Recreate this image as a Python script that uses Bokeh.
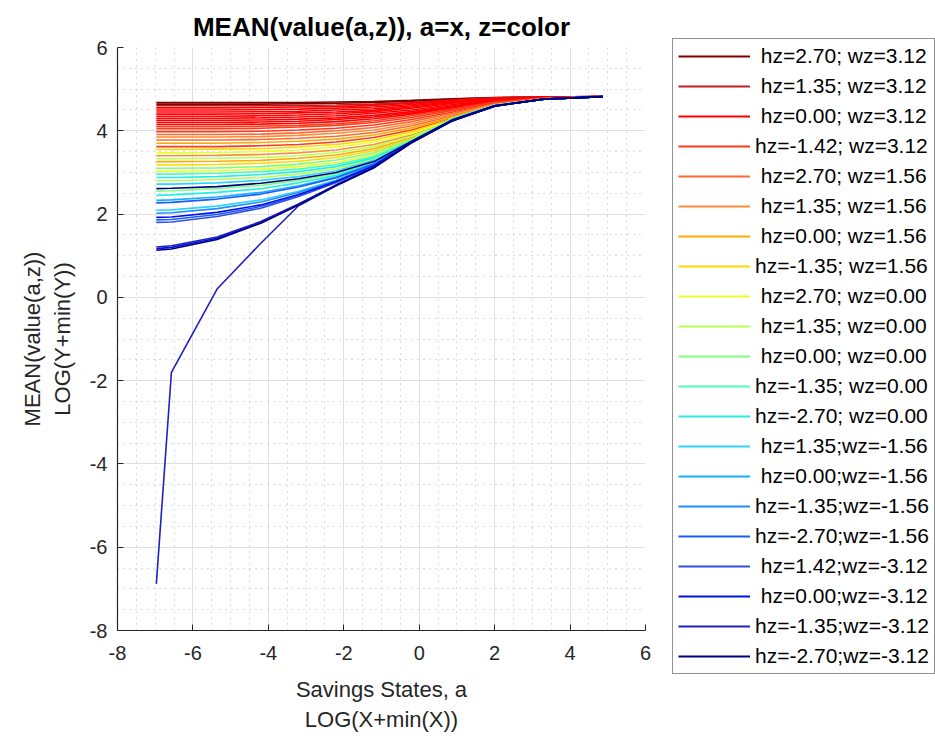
from bokeh.plotting import figure
from bokeh.models import Legend, LegendItem, FixedTicker, Range1d
from bokeh.layouts import row
from bokeh.embed import file_html
from bokeh.resources import INLINE

# ---------------- data ----------------
# savings grid, log scale (x)
x_grid = [-6.97, -6.57, -5.36, -4.20, -3.20, -2.20, -1.20, -0.20, 0.90, 2.00, 3.30, 4.86]

NB = "\u00a0"
legend_labels = [
    NB + "hz=2.70; wz=3.12", NB + "hz=1.35; wz=3.12", NB + "hz=0.00; wz=3.12", "hz=-1.42; wz=3.12",
    NB + "hz=2.70; wz=1.56", NB + "hz=1.35; wz=1.56", NB + "hz=0.00; wz=1.56", "hz=-1.35; wz=1.56",
    NB + "hz=2.70; wz=0.00", NB + "hz=1.35; wz=0.00", NB + "hz=0.00; wz=0.00", "hz=-1.35; wz=0.00",
    "hz=-2.70; wz=0.00", NB + "hz=1.35;wz=-1.56", NB + "hz=0.00;wz=-1.56", "hz=-1.35;wz=-1.56",
    "hz=-2.70;wz=-1.56", NB + "hz=1.42;wz=-3.12", NB + "hz=0.00;wz=-3.12", "hz=-1.35;wz=-3.12",
    "hz=-2.70;wz=-3.12",
]

# mean value lines, LOG(Y+min(Y)), one row per line, columns follow x_grid
red_lines = [
    [4.68, 4.68, 4.68, 4.68, 4.68, 4.69, 4.70, 4.73, 4.77, 4.80, 4.81, 4.82],
    [4.64, 4.64, 4.64, 4.64, 4.65, 4.66, 4.68, 4.71, 4.76, 4.79, 4.81, 4.82],
    [4.60, 4.60, 4.60, 4.60, 4.61, 4.62, 4.64, 4.68, 4.74, 4.79, 4.81, 4.82],
    [4.55, 4.55, 4.55, 4.56, 4.57, 4.58, 4.61, 4.66, 4.73, 4.78, 4.81, 4.82],
    [4.50, 4.50, 4.50, 4.51, 4.52, 4.54, 4.57, 4.63, 4.72, 4.78, 4.80, 4.82],
    [4.45, 4.45, 4.45, 4.46, 4.47, 4.50, 4.53, 4.60, 4.70, 4.77, 4.80, 4.82],
    [4.40, 4.40, 4.40, 4.41, 4.43, 4.45, 4.49, 4.57, 4.68, 4.76, 4.80, 4.82],
    [4.35, 4.35, 4.35, 4.36, 4.38, 4.41, 4.46, 4.54, 4.66, 4.75, 4.80, 4.82],
    [4.30, 4.30, 4.30, 4.31, 4.33, 4.36, 4.42, 4.50, 4.63, 4.74, 4.80, 4.82],
    [4.25, 4.25, 4.25, 4.26, 4.28, 4.31, 4.37, 4.46, 4.60, 4.73, 4.79, 4.82],
    [4.20, 4.20, 4.20, 4.21, 4.23, 4.27, 4.33, 4.43, 4.58, 4.72, 4.79, 4.82],
    [4.15, 4.15, 4.15, 4.16, 4.18, 4.22, 4.29, 4.40, 4.55, 4.70, 4.79, 4.82],
    [4.10, 4.10, 4.10, 4.11, 4.13, 4.17, 4.24, 4.36, 4.52, 4.69, 4.78, 4.82],
    [4.05, 4.05, 4.05, 4.06, 4.09, 4.13, 4.20, 4.32, 4.49, 4.67, 4.78, 4.82],
    [3.98, 3.98, 3.98, 3.99, 4.02, 4.06, 4.14, 4.27, 4.45, 4.65, 4.77, 4.82],
    [3.91, 3.91, 3.91, 3.92, 3.95, 4.00, 4.08, 4.22, 4.42, 4.64, 4.77, 4.82],
]
red_groups = [0, 0, 1, 2, 2, 2, 2, 2, 2, 2, 2, 2, 3, 3, 3, 4]

orange_lines = [
    [3.85, 3.85, 3.85, 3.86, 3.89, 3.94, 4.02, 4.17, 4.39, 4.63, 4.77, 4.82],
    [3.78, 3.78, 3.78, 3.79, 3.82, 3.87, 3.96, 4.12, 4.36, 4.63, 4.77, 4.82],
    [3.70, 3.70, 3.70, 3.72, 3.75, 3.80, 3.90, 4.07, 4.33, 4.62, 4.77, 4.82],
    [3.62, 3.62, 3.62, 3.64, 3.67, 3.73, 3.84, 4.02, 4.30, 4.62, 4.77, 4.82],
    [3.55, 3.55, 3.56, 3.57, 3.61, 3.67, 3.78, 3.98, 4.28, 4.62, 4.76, 4.82],
    [3.47, 3.47, 3.48, 3.50, 3.54, 3.61, 3.73, 3.94, 4.26, 4.61, 4.76, 4.82],
    [3.40, 3.40, 3.41, 3.43, 3.47, 3.54, 3.67, 3.90, 4.25, 4.61, 4.76, 4.82],
    [3.33, 3.33, 3.34, 3.36, 3.40, 3.48, 3.62, 3.87, 4.24, 4.61, 4.76, 4.82],
]
orange_groups = [5, 4, 6, 3, 7, 8, 5, 9]

green_lines = [
    [3.26, 3.26, 3.27, 3.29, 3.34, 3.42, 3.57, 3.84, 4.31, 4.61, 4.76, 4.82],
    [3.18, 3.18, 3.19, 3.22, 3.27, 3.36, 3.52, 3.81, 4.30, 4.61, 4.76, 4.82],
    [3.10, 3.10, 3.11, 3.14, 3.20, 3.30, 3.47, 3.79, 4.30, 4.61, 4.76, 4.82],
    [3.03, 3.03, 3.04, 3.08, 3.14, 3.24, 3.42, 3.77, 4.29, 4.61, 4.76, 4.82],
    [2.96, 2.96, 2.98, 3.02, 3.08, 3.19, 3.38, 3.76, 4.29, 4.61, 4.76, 4.82],
    [2.88, 2.88, 2.90, 2.95, 3.02, 3.14, 3.35, 3.75, 4.28, 4.61, 4.76, 4.82],
    [2.80, 2.80, 2.83, 2.88, 2.96, 3.09, 3.32, 3.74, 4.28, 4.61, 4.76, 4.82],
    [2.72, 2.72, 2.75, 2.81, 2.90, 3.04, 3.29, 3.73, 4.27, 4.61, 4.76, 4.82],
]
green_groups = [6, 7, 10, 8, 11, 12, 9, 13]

blue_lines = [
    [2.61, 2.62, 2.66, 2.74, 2.85, 3.00, 3.26, 3.75, 4.27, 4.60, 4.76, 4.82],
    [2.55, 2.56, 2.61, 2.69, 2.81, 2.97, 3.24, 3.75, 4.27, 4.60, 4.76, 4.82],
    [2.45, 2.46, 2.52, 2.61, 2.75, 2.93, 3.22, 3.74, 4.26, 4.60, 4.76, 4.82],
    [2.33, 2.34, 2.41, 2.52, 2.68, 2.89, 3.21, 3.74, 4.26, 4.60, 4.76, 4.82],
    [2.27, 2.28, 2.36, 2.48, 2.65, 2.87, 3.20, 3.74, 4.26, 4.60, 4.76, 4.82],
    [2.09, 2.10, 2.19, 2.34, 2.55, 2.82, 3.18, 3.74, 4.26, 4.60, 4.76, 4.82],
    [2.02, 2.03, 2.13, 2.29, 2.52, 2.80, 3.17, 3.74, 4.26, 4.60, 4.76, 4.82],
    [1.92, 1.93, 2.04, 2.22, 2.47, 2.78, 3.16, 3.73, 4.26, 4.60, 4.76, 4.82],
    [1.86, 1.87, 1.99, 2.18, 2.44, 2.77, 3.16, 3.73, 4.26, 4.60, 4.76, 4.82],
    [1.80, 1.81, 1.94, 2.14, 2.42, 2.76, 3.15, 3.73, 4.26, 4.60, 4.76, 4.82],
    [1.21, 1.24, 1.45, 1.82, 2.24, 2.70, 3.12, 3.72, 4.25, 4.59, 4.76, 4.82],
    [1.17, 1.20, 1.42, 1.80, 2.23, 2.70, 3.12, 3.72, 4.25, 4.59, 4.76, 4.82],
    [1.13, 1.16, 1.39, 1.78, 2.22, 2.69, 3.12, 3.72, 4.25, 4.59, 4.76, 4.82],
    [-6.88, -1.80, 0.20, 1.30, 2.20, 2.68, 3.11, 3.71, 4.25, 4.59, 4.76, 4.82],
]
blue_groups = [20, 10, 12, 14, 16, 13, 15, 18, 16, 17, 19, 18, 20, 19]

x_ticks = [-8, -6, -4, -2, 0, 2, 4, 6]
y_ticks = [-8, -6, -4, -2, 0, 2, 4, 6]

# ---------------- style ----------------
colors = ["#800000", "#c02020", "#ff0000", "#ff3a1a", "#ff6a33", "#ff8c3a", "#ffaa00",
          "#ffd800", "#eaff2a", "#b5ff55", "#7fff80", "#4affb5", "#25eee0", "#30d2ff",
          "#10b0ff", "#1e8cff", "#1a5cff", "#3050e0", "#0010e6", "#2020c0", "#00007f"]
FONT = "Liberation Sans"
AX = "#262626"

p = figure(width=660, height=740, x_range=Range1d(-8, 6), y_range=Range1d(-8, 6),
           output_backend="svg", toolbar_location=None,
           min_border_left=117, min_border_right=15, min_border_top=47, min_border_bottom=110)
p.outline_line_color = None
p.background_fill_color = "white"
p.border_fill_color = "white"

p.title.text = "MEAN(value(a,z)), a=x, z=color"
p.title.align = "center"
p.title.text_font = FONT
p.title.text_font_size = "26px"
p.title.text_font_style = "bold"
p.title.text_color = "#000000"
p.title.standoff = 12

minor = [v / 2 for v in range(-16, 13) if v % 4 != 0]
p.xaxis.ticker = FixedTicker(ticks=x_ticks, minor_ticks=minor)
p.yaxis.ticker = FixedTicker(ticks=y_ticks, minor_ticks=minor)
tick_text = {t: str(t) for t in x_ticks}
p.xaxis.major_label_overrides = tick_text
p.yaxis.major_label_overrides = tick_text

for ax in (p.xaxis[0], p.yaxis[0]):
    ax.axis_line_color = AX
    ax.axis_line_width = 1.2
    ax.major_tick_line_color = AX
    ax.major_tick_in = 6
    ax.major_tick_out = 0
    ax.minor_tick_in = 0
    ax.minor_tick_out = 0
    ax.major_label_text_font = FONT
    ax.major_label_text_font_size = "20px"
    ax.major_label_text_color = AX
    ax.axis_label_text_font = FONT
    ax.axis_label_text_font_size = "22px"
    ax.axis_label_text_font_style = "normal"
    ax.axis_label_text_color = AX

p.xaxis.axis_label = "Savings States, a\nLOG(X+min(X))"
p.yaxis.axis_label = "MEAN(value(a,z))\nLOG(Y+min(Y))"
p.xaxis.major_label_standoff = 15
p.yaxis.major_label_standoff = 10
p.xaxis.axis_label_standoff = 14
p.yaxis.axis_label_standoff = 12

for g in (p.xgrid[0], p.ygrid[0]):
    g.grid_line_color = "#e0e0e0"
    g.grid_line_width = 1
    g.minor_grid_line_color = "#b8b8b8"
    g.minor_grid_line_dash = "1 5"
    g.minor_grid_line_width = 1

# group lines by colour
all_lines = red_lines + orange_lines + green_lines + blue_lines
all_groups = red_groups + orange_groups + green_groups + blue_groups
group_ys = [[r_ for r_, g in zip(all_lines, all_groups) if g == gi] for gi in range(len(legend_labels))]

for gi in range(len(legend_labels)):
    ys = group_ys[gi]
    p.multi_line(xs=[x_grid] * len(ys), ys=ys, line_color=colors[gi], line_width=1.6)

# ---------------- legend panel (same series, plotted out of view) ----------------
q = figure(width=275, height=740, x_range=Range1d(100, 101), y_range=Range1d(100, 101),
           output_backend="svg", toolbar_location=None,
           x_axis_location=None, y_axis_location=None,
           min_border_left=0, min_border_right=0, min_border_top=0, min_border_bottom=0)
q.outline_line_color = None
q.xgrid.visible = False
q.ygrid.visible = False
q.background_fill_color = "white"
q.border_fill_color = "white"

free_frame = False
try:
    q.frame_align = False
    p.frame_align = False
    free_frame = True
except Exception:
    free_frame = False

key_renderers = []
for gi in range(len(legend_labels)):
    ys = group_ys[gi]
    r = q.multi_line(xs=[x_grid] * len(ys), ys=ys, line_color=colors[gi], line_width=1.8)
    key_renderers.append(r)

LEG_H = 632
leg_y = (740 - 42 - LEG_H) if free_frame else (630 - 42 - LEG_H)
legend = Legend(items=[LegendItem(label=legend_labels[i], renderers=[key_renderers[i]], index=0)
                       for i in range(len(legend_labels))],
                location=(12, leg_y))
legend.border_line_color = "#262626"
legend.border_line_width = 1
legend.background_fill_color = "white"
legend.background_fill_alpha = 1
legend.label_text_font = FONT
legend.label_text_font_size = "21px"
legend.label_text_color = "#000000"
legend.glyph_width = 72
legend.glyph_height = 22
legend.label_height = 22
legend.spacing = 6
legend.padding = 5
legend.label_standoff = 5
legend.margin = 0
q.add_layout(legend)

layout = row(p, q)
open("out.html", "w").write(file_html(layout, INLINE))
